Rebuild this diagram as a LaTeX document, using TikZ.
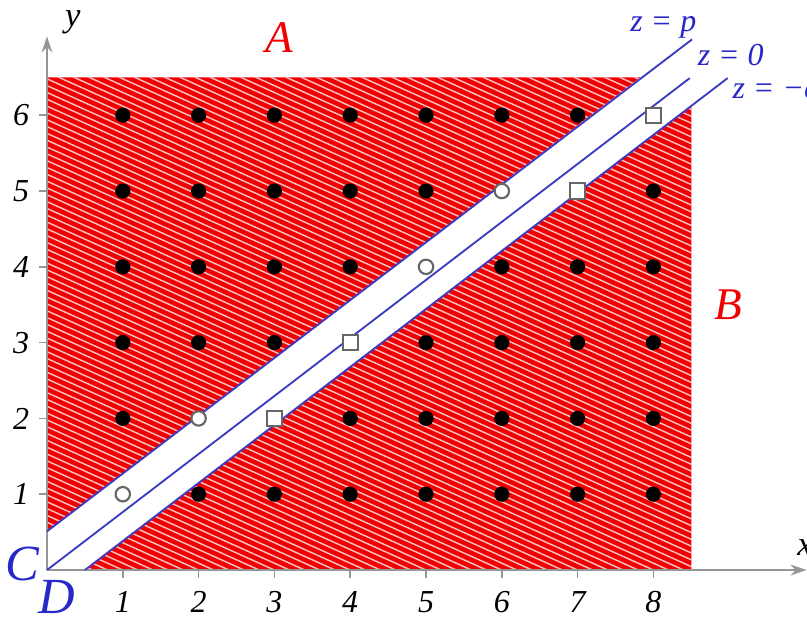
\documentclass[tikz,border=0pt]{standalone}
\usepackage{fontspec}
\setmainfont{Liberation Serif}
\usetikzlibrary{arrows.meta}
\definecolor{zblue}{RGB}{60,60,195}
\definecolor{lblue}{RGB}{40,40,200}
\definecolor{hred}{RGB}{240,0,0}
\definecolor{axgray}{RGB}{150,150,150}
\begin{document}
\begin{tikzpicture}[
  axis/.style={axgray, line width=1pt},
  zline/.style={zblue, line width=0.7pt},
  ticklab/.style={font=\fontsize{12}{12}\selectfont\itshape},
  reglab/.style={font=\fontsize{17}{17}\selectfont\itshape, text=hred},
  cornerlab/.style={font=\fontsize{19}{19}\selectfont\itshape, text=lblue},
  zlab/.style={font=\fontsize{12}{12}\selectfont\itshape, text=lblue},
  blackdot/.style={circle, fill=black, inner sep=0pt, minimum size=0.2cm},
  opendot/.style={circle, draw=black!60, fill=white, line width=0.8pt, inner sep=0pt, minimum size=0.19cm},
  opensq/.style={rectangle, draw=black!60, fill=white, line width=0.8pt, inner sep=0pt, minimum size=0.2cm}
]
\useasboundingbox (-0.620,-0.607) rectangle (10.026,7.520);
% red hatched regions
\fill[hred] (0,0.51) -- (7.83,6.5) -- (0,6.5) -- cycle;
\fill[hred] (0.5,0) -- (8.5,0) -- (8.5,6.12) -- cycle;
\begin{scope}
  \clip (0,0.51) -- (7.83,6.5) -- (0,6.5) -- cycle (0.5,0) -- (8.5,0) -- (8.5,6.12) -- cycle;
  \foreach \c in {0,0.09,...,10.5}
    \draw[white, line width=0.55pt, opacity=0.75] (0,\c) -- (8.5,\c-3.825);
\end{scope}
% axes
\coordinate (O) at (0,0);
\coordinate (xend) at (10.02,0);
\coordinate (yend) at (0,7.04);
\draw[axis, -{Stealth[length=6pt,width=4pt]}] (O) -- (xend);
\draw[axis, -{Stealth[length=6pt,width=4pt]}] (O) -- (yend);
\node[font=\fontsize{13}{13}\selectfont\itshape] (ylab) at (0.34,7.22) {y};
\node[font=\fontsize{13}{13}\selectfont\itshape] (xlab) at (10.0,0.29) {x};
\foreach \k in {1,...,8} {
  \draw[axis, line width=0.6pt] (\k,0) -- (\k,-0.1);
  \node[ticklab] (xt\k) at (\k,-0.42) {\k};
}
\foreach \k in {1,...,6} {
  \draw[axis, line width=0.6pt] (-0.1,\k) -- (0,\k);
  \node[ticklab] (yt\k) at (-0.34,\k) {\k};
}
% lines z = p, 0, -q
\coordinate (p1) at (0,0.51);  \coordinate (p2) at (8.51,7.0);
\coordinate (q1) at (0.5,0);   \coordinate (q2) at (8.98,6.49);
\coordinate (z2) at (8.48,6.49);
\draw[zline] (p1) -- (p2);
\draw[zline] (O) -- (z2);
\draw[zline] (q1) -- (q2);
\node[zlab] (lp) at (8.13,7.16) {z = p};
\node[zlab] (l0) at (9.02,6.79) {z = 0};
\node[zlab, anchor=west] (lq) at (8.92,6.27) {z = −q};
% labels
\node[reglab] (A) at (3.07,7.03) {A};
\node[reglab] (B) at (8.99,3.50) {B};
\node[cornerlab] (C) at (-0.33,0.08) {C};
\node[cornerlab] (D) at (0.13,-0.36) {D};
% lattice points
\foreach \x/\y in {2/1,3/1,4/1,5/1,6/1,7/1,8/1,
                   1/2,4/2,5/2,6/2,7/2,8/2,
                   1/3,2/3,3/3,5/3,6/3,7/3,8/3,
                   1/4,2/4,3/4,4/4,6/4,7/4,8/4,
                   1/5,2/5,3/5,4/5,5/5,8/5,
                   1/6,2/6,3/6,4/6,5/6,6/6,7/6}
  \node[blackdot] (b\x\y) at (\x,\y) {};
\foreach \x/\y in {1/1,2/2,5/4,6/5}
  \node[opendot] (c\x\y) at (\x,\y) {};
\foreach \x/\y in {3/2,4/3,7/5,8/6}
  \node[opensq] (s\x\y) at (\x,\y) {};
\end{tikzpicture}
\end{document}
